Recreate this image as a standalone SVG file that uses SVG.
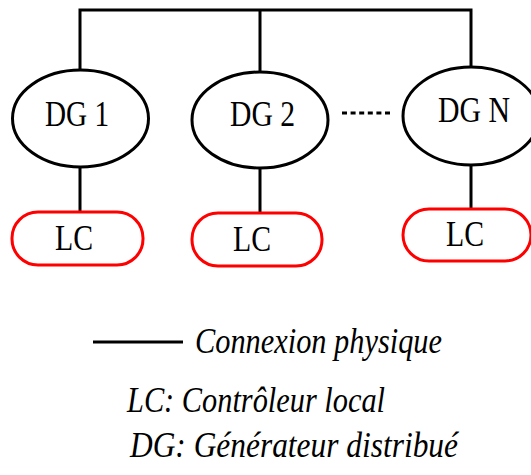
<svg xmlns="http://www.w3.org/2000/svg" width="531" height="475" viewBox="0 0 531 475">
<style>
.dg{fill:#fff;stroke:#000;stroke-width:3}
.lc{fill:#fff;stroke:#ff0000;stroke-width:3}
.t{font-family:"Liberation Serif","Times New Roman",serif;font-size:36px;fill:#000}
.i{font-style:italic}
.w{stroke:#000;stroke-width:3;fill:none}
</style>
<g id="connectors">
<path class="w" d="M80 70V10H471V66M260 10V72M80 167V212M260 168V213M471 165V209"/>
<line class="w" x1="342" y1="113" x2="390" y2="113" stroke-dasharray="5 3.6"/>
</g>
<g id="dg1"><ellipse class="dg" cx="80.5" cy="118.5" rx="68" ry="48.5"/><text class="t" x="45" y="126" textLength="64" lengthAdjust="spacingAndGlyphs">DG 1</text></g>
<g id="dg2"><ellipse class="dg" cx="260" cy="120" rx="68" ry="48"/><text class="t" x="230" y="126" textLength="65" lengthAdjust="spacingAndGlyphs">DG 2</text></g>
<g id="dgn"><ellipse class="dg" cx="471" cy="116" rx="68" ry="49"/><text class="t" x="438" y="122" textLength="72" lengthAdjust="spacingAndGlyphs">DG N</text></g>
<g id="lc1"><rect class="lc" x="12" y="212" width="131" height="53" rx="26"/><text class="t" x="55" y="250" textLength="38" lengthAdjust="spacingAndGlyphs">LC</text></g>
<g id="lc2"><rect class="lc" x="192" y="213" width="130" height="53" rx="26"/><text class="t" x="233" y="251" textLength="38" lengthAdjust="spacingAndGlyphs">LC</text></g>
<g id="lcn"><rect class="lc" x="403" y="209" width="128" height="52" rx="26"/><text class="t" x="446" y="246" textLength="38" lengthAdjust="spacingAndGlyphs">LC</text></g>
<g id="legend">
<line class="w" x1="93" y1="342" x2="183" y2="342"/>
<text class="t i" x="195" y="353" textLength="247" lengthAdjust="spacingAndGlyphs">Connexion physique</text>
<text class="t i" x="127" y="412" textLength="258" lengthAdjust="spacingAndGlyphs">LC: Contrôleur local</text>
<text class="t i" x="130" y="457" textLength="328" lengthAdjust="spacingAndGlyphs">DG: Générateur distribué</text>
</g>
</svg>
